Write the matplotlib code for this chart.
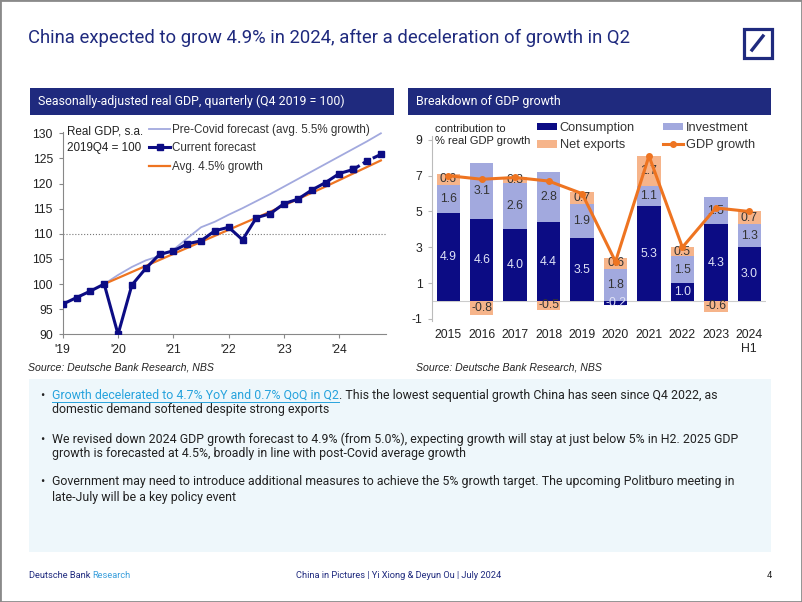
import numpy as np
import matplotlib
matplotlib.use('Agg')
import matplotlib.pyplot as plt
from matplotlib import font_manager
from matplotlib.patches import Rectangle
from matplotlib.lines import Line2D

# ------------------------
# Datos: PIB real trimestral (2019Q4 = 100)
# ------------------------
quarters = np.arange(24)                      # 2019Q1 .. 2024Q4
year_ticks = [0, 4, 8, 12, 16, 20]
year_labels = ["'19", "'20", "'21", "'22", "'23", "'24"]
gdp_current = [96.0, 97.3, 98.6, 100.0, 90.0, 99.8, 103.1, 105.9,
               106.6, 108.0, 108.6, 110.6, 111.3, 108.8, 113.2, 114.0,
               116.0, 116.9, 118.7, 120.2, 122.0, 122.8, 124.5, 125.8]
n_actual = 22                                  # hasta 2024Q2 real, luego previsión
precovid_q = list(range(3, 24))
gdp_precovid = [100.0, 101.8, 103.4, 104.7, 105.6, 106.8, 109.1, 111.3,
                112.4, 113.8, 115.1, 116.5, 117.9, 119.4, 120.9, 122.4,
                123.9, 125.4, 126.9, 128.4, 130.0]
avg_q = [3, 7, 11, 15, 19, 23]
gdp_avg45 = [100.0, 104.8, 109.6, 114.4, 119.4, 124.6]

# ------------------------
# Datos: descomposición del crecimiento
# ------------------------
years = ['2015', '2016', '2017', '2018', '2019', '2020', '2021', '2022', '2023', '2024\nH1']
consumption = [4.9, 4.6, 4.0, 4.4, 3.5, -0.2, 5.3, 1.0, 4.3, 3.0]
investment = [1.6, 3.1, 2.6, 2.8, 1.9, 1.8, 1.1, 1.5, 1.5, 1.3]
net_exports = [0.6, -0.8, 0.3, -0.5, 0.7, 0.6, 1.7, 0.5, -0.6, 0.7]
gdp_growth = [7.0, 6.8, 6.9, 6.7, 6.0, 2.2, 8.1, 3.0, 5.2, 5.0]

# ------------------------
# Estilo
# ------------------------
names = {f.name for f in font_manager.fontManager.ttflist}
NARROW = 'Liberation Sans Narrow' if 'Liberation Sans Narrow' in names else 'Roboto'
ARIAL = 'Liberation Sans'
plt.rcParams['font.family'] = [ARIAL, 'DejaVu Sans']
plt.rcParams['axes.unicode_minus'] = False

NAVY = '#0c0c84'
HEAD = '#1f2a7e'
LAV = '#a2a9de'
PEACH = '#f6b48a'
ORANGE = '#ee7421'
TXT = '#222222'

W, H = 802, 602
fig = plt.figure(figsize=(W / 100, H / 100), dpi=100)
rend = fig.canvas.get_renderer()


def fx(px):
    return px / W


def fy(py):
    return 1 - py / H


def box(x0, y0, x1, y1):
    return [x0 / W, 1 - y1 / H, (x1 - x0) / W, (y1 - y0) / H]


def fit(t, target_px):
    # ajusta el tamaño de letra para que el texto ocupe el ancho de la referencia
    w = t.get_window_extent(rend).width
    t.set_fontsize(t.get_fontsize() * target_px / w)
    return t.get_fontsize()


# marco, título y logo
fig.add_artist(Rectangle((0, 0), 1, 1, transform=fig.transFigure, fill=False,
                         ec='#8a8a8a', lw=2))
t = fig.text(fx(28), fy(38), 'China expected to grow 4.9% in 2024, after a deceleration of growth in Q2',
             va='center', color=HEAD, fontsize=14, family=NARROW)
fit(t, 606)
r = box(744, 29, 772, 58)
fig.add_artist(Rectangle((r[0], r[1]), r[2], r[3], transform=fig.transFigure, fill=False,
                         ec=HEAD, lw=2.3))
fig.add_artist(Line2D([fx(752), fx(763)], [fy(50), fy(36)], transform=fig.transFigure,
                      color=HEAD, lw=2.4))

# cabeceras
for (x0, x1), txt, wt in zip([(30, 394), (408, 771)],
                             ['Seasonally-adjusted real GDP, quarterly (Q4 2019 = 100)',
                              'Breakdown of GDP growth'], [308, None]):
    r = box(x0, 88, x1, 115)
    fig.add_artist(Rectangle((r[0], r[1]), r[2], r[3], transform=fig.transFigure,
                             fc=HEAD, ec='none'))
    t = fig.text(fx(x0 + 8), fy(101.5), txt, va='center', color='white', fontsize=10,
                 family=NARROW)
    if wt:
        hfs = fit(t, wt)
    else:
        t.set_fontsize(hfs)

# ------------------------
# Gráfico izquierdo
# ------------------------
ax1 = fig.add_axes(box(62.7, 131.8, 385.7, 334.3))
ax1.plot(precovid_q, gdp_precovid, color=LAV, lw=1.3, zorder=2)
ax1.plot(avg_q, gdp_avg45, color=ORANGE, lw=1.6, zorder=3)
ax1.plot(quarters[:n_actual], gdp_current[:n_actual], color=NAVY, lw=2.2,
         marker='s', ms=3.8, zorder=4)
ax1.plot(quarters[n_actual - 1:], gdp_current[n_actual - 1:], color=NAVY, lw=2.2,
         ls=(0, (2.5, 1.2)), marker='s', ms=3.8, zorder=4)
ax1.axhline(110, color='#777777', lw=0.8, ls=':', zorder=1)
ax1.set_xlim(0, 23.35)
ax1.set_ylim(90, 130.3)
ax1.set_yticks(range(90, 131, 5))
ax1.set_xticks(year_ticks)
ax1.set_xticklabels(year_labels)
ax1.tick_params(labelsize=8.7, colors='#888888', labelcolor=TXT, length=3, width=0.8, pad=4)
for s in ['top', 'right']:
    ax1.spines[s].set_visible(False)
for s in ['left', 'bottom']:
    ax1.spines[s].set_color('#888888')
    ax1.spines[s].set_linewidth(0.8)

fig.text(fx(66.7), fy(125.5), 'Real GDP, s.a.\n2019Q4 = 100', va='top', fontsize=8.4,
         color=TXT, linespacing=1.5)
h1 = [Line2D([], [], color=LAV, lw=1.3),
      Line2D([], [], color=NAVY, lw=2.2, marker='s', ms=3.8),
      Line2D([], [], color=ORANGE, lw=1.6)]
l1 = ['Pre-Covid forecast (avg. 5.5% growth)', 'Current forecast', 'Avg. 4.5% growth']
leg = ax1.legend(h1, l1, loc='upper left', bbox_to_anchor=(fx(149), fy(124)),
                 bbox_transform=fig.transFigure, frameon=False, fontsize=8.4,
                 handlelength=1.8, handletextpad=0.15, labelspacing=0.55,
                 borderpad=0, borderaxespad=0)
for t in leg.get_texts():
    t.set_color('#333333')

# ------------------------
# Gráfico derecho
# ------------------------
ax2 = fig.add_axes(box(431.6, 136.3, 766, 320.7))
x = np.arange(len(years))
cons = np.array(consumption)
inv = np.array(investment)
nx = np.array(net_exports)
pos_base = np.maximum(cons, 0) + inv
nx_bottom = np.where(nx >= 0, pos_base, np.minimum(cons, 0))
bw = 0.7
ax2.axhline(0, color='#cccccc', lw=0.8, zorder=1)
ax2.bar(x, cons, bw, color=NAVY, zorder=2)
ax2.bar(x, inv, bw, bottom=np.maximum(cons, 0), color=LAV, zorder=2)
ax2.bar(x, nx, bw, bottom=nx_bottom, color=PEACH, zorder=2)
for i in range(len(years)):
    ax2.text(x[i], cons[i] / 2, f'{cons[i]:.1f}', ha='center', va='center',
             fontsize=8.8, color='#dfe2f6', zorder=3)
    ax2.text(x[i], max(cons[i], 0) + inv[i] / 2, f'{inv[i]:.1f}', ha='center', va='center',
             fontsize=8.8, color='#333333', zorder=3)
    ax2.text(x[i], nx_bottom[i] + nx[i] / 2, f'{nx[i]:.1f}', ha='center', va='center',
             fontsize=8.8, color='#333333', zorder=3)
ax2.plot(x, gdp_growth, color=ORANGE, lw=2.2, marker='o', ms=4, zorder=4)
ax2.set_xlim(-0.5, len(years) - 0.5)
ax2.set_ylim(-1.1, 9.2)
ax2.set_yticks([-1, 1, 3, 5, 7, 9])
ax2.set_xticks(x)
ax2.set_xticklabels(years)
ax2.tick_params(axis='y', labelsize=8.8, colors='#bbbbbb', labelcolor=TXT, length=3, width=0.8)
ax2.tick_params(axis='x', labelsize=8.8, length=0, labelcolor=TXT, pad=6)
for s in ['top', 'right', 'bottom']:
    ax2.spines[s].set_visible(False)
ax2.spines['left'].set_color('#bbbbbb')
ax2.spines['left'].set_linewidth(0.8)

fig.text(fx(435), fy(123.5), 'contribution to\n% real GDP growth', va='top', fontsize=8,
         color=TXT, linespacing=1.3)
legA = ax2.legend([Rectangle((0, 0), 1, 1, fc=NAVY), Rectangle((0, 0), 1, 1, fc=PEACH)],
                  ['Consumption', 'Net exports'], loc='upper left',
                  bbox_to_anchor=(fx(536.5), fy(122)), bbox_transform=fig.transFigure,
                  frameon=False, fontsize=9.2, handlelength=1.6, handleheight=0.55,
                  handletextpad=0.2, labelspacing=0.42, borderpad=0, borderaxespad=0)
ax2.add_artist(legA)
legB = ax2.legend([Rectangle((0, 0), 1, 1, fc=LAV),
                   Line2D([], [], color=ORANGE, lw=2.2, marker='o', ms=4)],
                  ['Investment', 'GDP growth'], loc='upper left',
                  bbox_to_anchor=(fx(663), fy(122)), bbox_transform=fig.transFigure,
                  frameon=False, fontsize=9.2, handlelength=1.6, handleheight=0.55,
                  handletextpad=0.2, labelspacing=0.42, borderpad=0, borderaxespad=0)
for lg in (legA, legB):
    for t in lg.get_texts():
        t.set_color('#333333')

# fuentes
for xs in (28, 416):
    fig.text(fx(xs), fy(368), 'Source: Deutsche Bank Research, NBS', va='center',
             fontsize=7.6, style='italic', color=TXT)

# ------------------------
# Caja de texto
# ------------------------
r = box(29, 379, 771, 552)
fig.add_artist(Rectangle((r[0], r[1]), r[2], r[3], transform=fig.transFigure,
                         fc='#eef7fb', ec='none'))

bullets = [
    ['Growth decelerated to 4.7% YoY and 0.7% QoQ in Q2',
     '. This the lowest sequential growth China has seen since Q4 2022, as',
     'domestic demand softened despite strong exports'],
    ['We revised down 2024 GDP growth forecast to 4.9% (from 5.0%), expecting growth will stay at just below 5% in H2. 2025 GDP',
     'growth is forecasted at 4.5%, broadly in line with post-Covid average growth'],
    ['Government may need to introduce additional measures to achieve the 5% growth target. The upcoming Politburo meeting in',
     'late-July will be a key policy event'],
]
line_y = [(395, 409), (439, 453), (482, 497)]
probe = fig.text(0, 0, bullets[1][0], fontsize=10, family=NARROW)
bfs = fit(probe, 687)
probe.remove()
for k, (b, (y1, y2)) in enumerate(zip(bullets, line_y)):
    fig.text(fx(42), fy(y1), '•', va='center', ha='center', fontsize=bfs, color=TXT,
             family=NARROW)
    if k == 0:
        t = fig.text(fx(52), fy(y1), b[0], va='center', fontsize=bfs, color='#27a3dd',
                     family=NARROW)
        bb = t.get_window_extent(rend)
        fig.add_artist(Line2D([bb.x0 / W, bb.x1 / W], [fy(y1 + 6.5)] * 2,
                              transform=fig.transFigure, color='#27a3dd', lw=0.7))
        fig.text(bb.x1 / W, fy(y1), b[1], va='center', fontsize=bfs, color=TXT, family=NARROW)
        fig.text(fx(52), fy(y2), b[2], va='center', fontsize=bfs, color=TXT, family=NARROW)
    else:
        fig.text(fx(52), fy(y1), b[0], va='center', fontsize=bfs, color=TXT, family=NARROW)
        fig.text(fx(52), fy(y2), b[1], va='center', fontsize=bfs, color=TXT, family=NARROW)

# pie de página
probe = fig.text(0, 0, 'Deutsche Bank Research', fontsize=8, family=NARROW)
ffs = fit(probe, 103)
probe.remove()
t = fig.text(fx(29), fy(576), 'Deutsche Bank ', va='center', fontsize=ffs, color=HEAD,
             family=NARROW)
bb = t.get_window_extent(rend)
fig.text(bb.x1 / W, fy(576), 'Research', va='center', fontsize=ffs, color='#3a9fdc',
         family=NARROW)
fig.text(fx(399), fy(576), 'China in Pictures | Yi Xiong & Deyun Ou | July 2024',
         va='center', ha='center', fontsize=ffs, color=HEAD, family=NARROW)
fig.text(fx(772), fy(576), '4', va='center', ha='right', fontsize=ffs, color=TXT,
         family=NARROW)

fig.savefig('out.png', dpi=100)
